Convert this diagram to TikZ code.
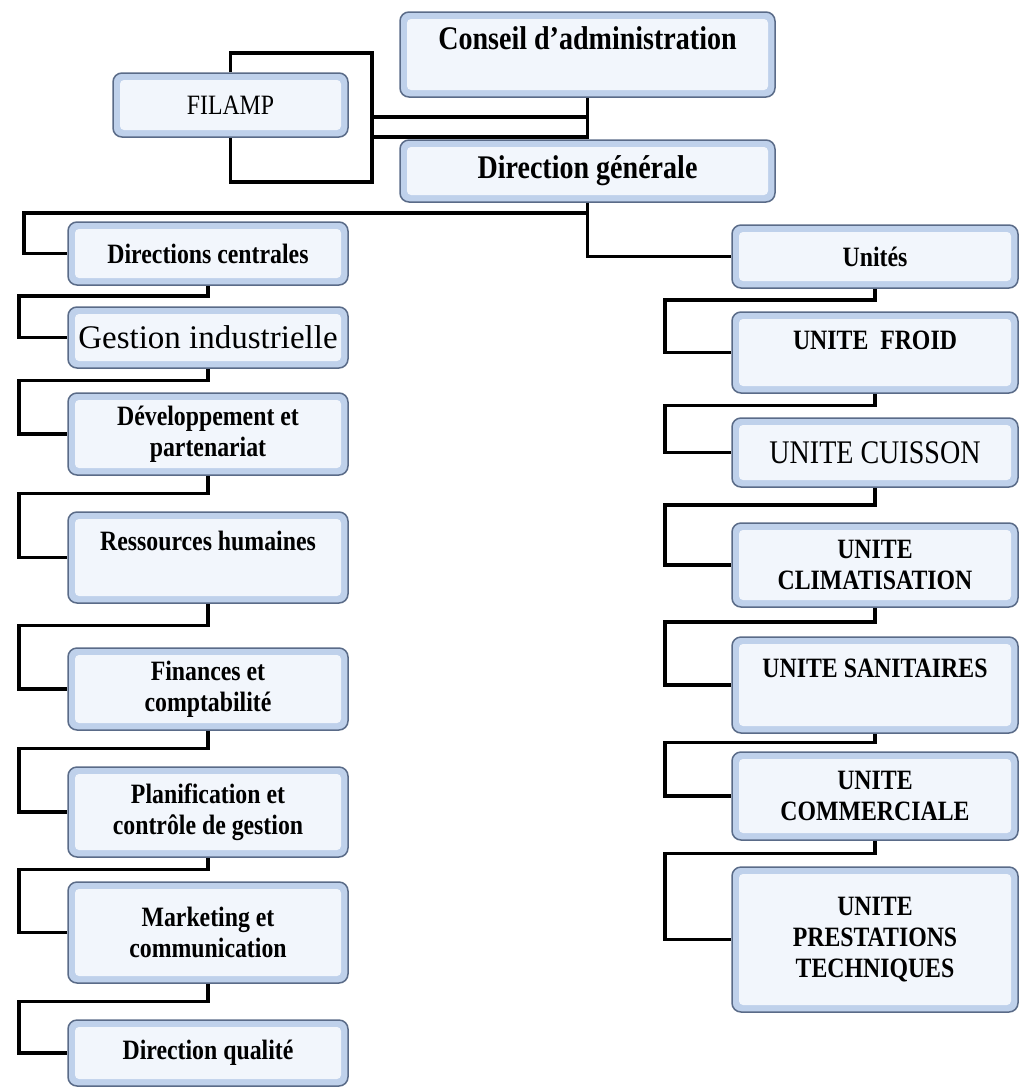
\documentclass[tikz,border=0pt]{standalone}
\usepackage{fontspec}
\setmainfont{Liberation Serif}[FakeStretch=0.85]
\newfontfamily\gifont{Liberation Serif}
\usepackage{xcolor}
\usetikzlibrary{calc}

\definecolor{boxedge}{HTML}{5A6B88}
\definecolor{boxband}{HTML}{BFD1EB}
\definecolor{boxin}{HTML}{F2F6FC}

\begin{document}
\begin{tikzpicture}[x=1pt, y=-1pt,
    box/.style={draw=boxedge, line width=1.5pt, rounded corners=9pt, fill=boxband,
      inner sep=2pt, align=center, font=\bfseries\fontsize{28}{31}\selectfont,
      path picture={\fill[boxin, rounded corners=4pt]
        ([shift={(7pt,-7pt)}]path picture bounding box.north west) rectangle
        ([shift={(-7pt,7pt)}]path picture bounding box.south east);}},
    lcol/.style={box, minimum width=280pt},
    rcol/.style={box, minimum width=286pt},
    raisetext/.style={text height=20pt, text depth=#1},
    link/.style={line width=3.8pt, color=black}]

      \useasboundingbox (0,0) rectangle (1022,1088);

      % top of the chart
      \node[box, minimum width=375pt, minimum height=85pt, font=\bfseries\fontsize{33}{36}\selectfont, raisetext=30pt] (conseil) at (587.5,54.5) {Conseil d'administration};
      \node[box, minimum width=235pt, minimum height=64pt, font=\fontsize{28}{31}\selectfont] (filamp) at (230.5,105) {FILAMP};
      \node[box, minimum width=375pt, minimum height=62pt, font=\bfseries\fontsize{33}{36}\selectfont] (dg) at (587.5,171) {Direction générale};

      % directions centrales
      \node[lcol, minimum height=63pt] (dc) at (208,253.5) {Directions centrales};
      \node[lcol, minimum height=61pt, font=\gifont\fontsize{33}{36}\selectfont] (gi) at (208,337.5) {Gestion industrielle};
      \node[lcol, minimum height=82pt] (dev) at (208,434) {Développement et\\partenariat};
      \node[lcol, minimum height=91pt, raisetext=34pt] (rh) at (208,557.5) {Ressources humaines};
      \node[lcol, minimum height=82pt] (fin) at (208,689) {Finances et\\comptabilité};
      \node[lcol, minimum height=90pt] (plan) at (208,812) {Planification et\\contrôle de gestion};
      \node[lcol, minimum height=101pt] (mark) at (208,932.5) {Marketing et\\communication};
      \node[lcol, minimum height=66pt] (dq) at (208,1053) {Direction qualité};

      % unites
      \node[rcol, minimum height=63pt] (unites) at (875,256.5) {Unités};
      \node[rcol, minimum height=81pt, raisetext=26pt] (froid) at (875,352.5) {UNITE~ FROID};
      \node[rcol, minimum height=69pt, font=\fontsize{33}{36}\selectfont] (cuisson) at (875,452.5) {UNITE CUISSON};
      \node[rcol, minimum height=84pt] (clim) at (875,565) {UNITE\\CLIMATISATION};
      \node[rcol, minimum height=96pt, raisetext=36pt] (san) at (875,685) {UNITE SANITAIRES};
      \node[rcol, minimum height=88pt] (com) at (875,796) {UNITE\\COMMERCIALE};
      \node[rcol, minimum height=145pt] (prest) at (875,939.5) {UNITE\\PRESTATIONS\\TECHNIQUES};

      % links
      \coordinate (bra) at (372,53);
      \coordinate (brb) at (372,182);
      \coordinate (fa) at (372,117);
      \coordinate (fb) at (372,137);
      \draw[link] (conseil.south) -- (dg.north);
      \draw[link] (filamp.north) |- (bra) -- (brb) -| (filamp.south);
      \draw[link] (fa) -- (fa -| conseil.south);
      \draw[link] (fb) -- (fb -| conseil.south);

      \draw[link] (dg.south) |- (unites.west);
      \draw[link] (dg.south) -- ++(0,10) -| ([xshift=-43pt]dc.west) -- (dc.west);

      \foreach \a/\b in {dc/gi, gi/dev, dev/rh, rh/fin, fin/plan, plan/mark, mark/dq}
        \draw[link] (\a.south) -- ($(\a.south)!.5!(\b.north)$) -| ([xshift=-48pt]\b.west) -- (\b.west);
      \foreach \a/\b in {unites/froid, froid/cuisson, cuisson/clim, clim/san, san/com, com/prest}
        \draw[link] (\a.south) -- ($(\a.south)!.5!(\b.north)$) -| ([xshift=-66pt]\b.west) -- (\b.west);

\end{tikzpicture}
\end{document}
